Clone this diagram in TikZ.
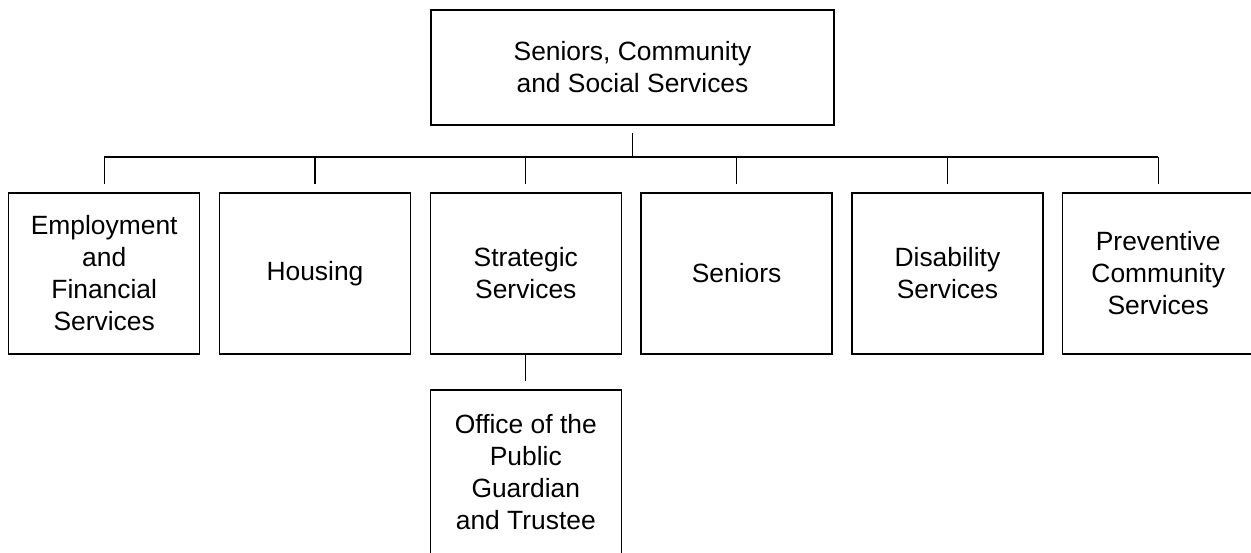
\documentclass[tikz,border=0pt]{standalone}
\usepackage{fontspec}
\setmainfont{Liberation Sans}
\usepackage{tikz}
\usetikzlibrary{calc, chains, positioning}

\begin{document}
\begin{tikzpicture}[
   start chain = going right,
   node distance = 9.9pt,
   line width = 0.65pt,
   unit/.style = {draw, rectangle, align=center, inner sep=0pt, outer sep=0pt,
                  minimum width=95.5pt, minimum height=80.5pt,
                  font=\fontsize{13.2}{16}\selectfont},
   head/.style = {unit, minimum width=201.5pt, minimum height=57.5pt}]
   \useasboundingbox (0,0) rectangle (625.5pt,-276pt);

   \node[head]  (top) at (316.25pt,-33.75pt) {Seniors, Community\\and Social Services};

   \node[unit, on chain] (emp) at (52.1pt,-136.75pt) {Employment\\and\\Financial\\Services};
   \node[unit, on chain] (hous) {Housing};
   \node[unit, on chain] (strat) {Strategic\\Services};
   \node[unit, on chain] (sen) {Seniors};
   \node[unit, on chain] (dis) {Disability\\Services};
   \node[unit, on chain] (prev) {Preventive\\Community\\Services};

   \node[unit, minimum height=82pt, below=18pt of strat] (office) {Office of the\\Public\\Guardian\\and Trustee};

   \coordinate (bus) at ($(top.south)+(0,-16pt)$);
   \draw[shorten <=4pt] (top.south) -- (bus);
   \draw (bus -| emp.north) -- (bus -| prev.north);
   \foreach \n in {emp, hous, strat, sen, dis, prev}
      \draw[shorten >=4.5pt] (bus -| \n.north) -- (\n.north);

   \draw[shorten >=4.5pt] (strat.south) -- (office.north);
\end{tikzpicture}
\end{document}
